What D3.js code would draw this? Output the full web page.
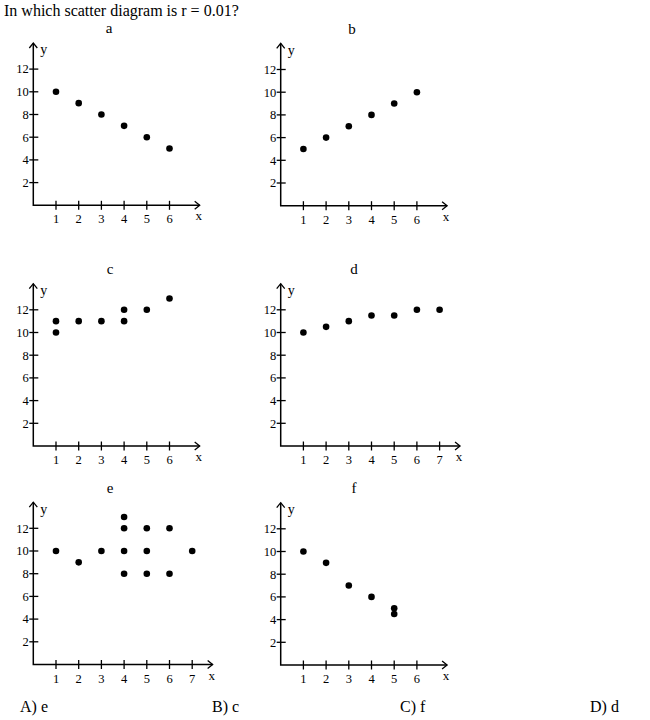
<!DOCTYPE html>
<html>
<head>
<meta charset="utf-8">
<script src="https://cdn.jsdelivr.net/npm/d3@7"></script>
<style>
	body { margin: 0; background: #fff; }
	text { font-family: 'Liberation Serif', 'Times New Roman', serif; fill: #000; }
</style>
</head>
<body>
<div id="chart_container"></div>
<script>
// Question and answer text
const question = 'In which scatter diagram is r = 0.01?'
const answers = ['A) e', 'B) c', 'C) f', 'D) d']

// Scatter data, one pair of arrays per diagram
const aX = [1, 2, 3, 4, 5, 6]
const aY = [10, 9, 8, 7, 6, 5]
const bX = [1, 2, 3, 4, 5, 6]
const bY = [5, 6, 7, 8, 9, 10]
const cX = [1, 1, 2, 3, 4, 4, 5, 6]
const cY = [10, 11, 11, 11, 11, 12, 12, 13]
const dX = [1, 2, 3, 4, 5, 6, 7]
const dY = [10, 10.5, 11, 11.5, 11.5, 12, 12]
const eX = [1, 2, 3, 4, 4, 4, 4, 5, 5, 5, 6, 6, 7]
const eY = [10, 9, 10, 13, 12, 10, 8, 12, 10, 8, 12, 8, 10]
const fX = [1, 2, 3, 4, 5, 5]
const fY = [10, 9, 7, 6, 5, 4.5]

// Tick labels
const yTicks = [2, 4, 6, 8, 10, 12]
const xTicks6 = [1, 2, 3, 4, 5, 6]
const xTicks7 = [1, 2, 3, 4, 5, 6, 7]

// Chart dimensions
const chartWidth = 650
const chartHeight = 720
const unitX = 22.7
const unitY = 11.35

// Panel layout (origin of each diagram on the page)
const panels = [
	{ name: 'a', xs: aX, ys: aY, ticks: xTicks6, left: 33.3, base: 205.3, titleX: 109 },
	{ name: 'b', xs: bX, ys: bY, ticks: xTicks6, left: 280.7, base: 205.7, titleX: 352 },
	{ name: 'c', xs: cX, ys: cY, ticks: xTicks6, left: 33.3, base: 446, titleX: 110 },
	{ name: 'd', xs: dX, ys: dY, ticks: xTicks7, left: 280.7, base: 446, titleX: 354 },
	{ name: 'e', xs: eX, ys: eY, ticks: xTicks7, left: 33.3, base: 664.5, titleX: 110 },
	{ name: 'f', xs: fX, ys: fY, ticks: xTicks6, left: 280.7, base: 665, titleX: 354 }
]

// Create Chart Area
let svg = d3.select('#chart_container')
	.append('svg')
	.attr('width', chartWidth)
	.attr('height', chartHeight)

svg.append('text')
	.attr('x', 4)
	.attr('y', 15.5)
	.style('font-size', '16px')
	.text(question)

panels.forEach((p) => {
	// axis length: a little past the last tick
	let xMax = p.ticks.length == 7 ? 7.9 : 7.33
	let scaleX = d3.scaleLinear()
		.domain([0, xMax])
		.range([p.left, p.left + xMax * unitX])
	let scaleY = d3.scaleLinear()
		.domain([0, 14.3])
		.range([p.base, p.base - 14.3 * unitY])

	let g = svg.append('g')

	// Axes
	let xEnd = scaleX(xMax)
	let yTop = scaleY(14.3)
	g.append('path')
		.attr('d', `M${p.left},${yTop}V${p.base}H${xEnd}`)
		.style('fill', 'none')
		.style('stroke', '#000')
		.style('stroke-width', 1.5)
	// Arrow heads
	g.append('path')
		.attr('d', `M${p.left - 4},${yTop + 5}L${p.left},${yTop}L${p.left + 4},${yTop + 5}`)
		.style('fill', 'none')
		.style('stroke', '#000')
		.style('stroke-width', 1.3)
	g.append('path')
		.attr('d', `M${xEnd - 5},${p.base - 4}L${xEnd},${p.base}L${xEnd - 5},${p.base + 4}`)
		.style('fill', 'none')
		.style('stroke', '#000')
		.style('stroke-width', 1.3)

	// Y ticks
	yTicks.forEach((t) => {
		g.append('line')
			.attr('x1', p.left - 4)
			.attr('x2', p.left + 5)
			.attr('y1', scaleY(t))
			.attr('y2', scaleY(t))
			.style('stroke', '#000')
			.style('stroke-width', 1.3)
		g.append('text')
			.attr('x', p.left - 4.5)
			.attr('y', scaleY(t) + 4.3)
			.attr('text-anchor', 'end')
			.style('font-size', '12.5px')
			.text(t)
	})

	// X ticks
	p.ticks.forEach((t) => {
		g.append('line')
			.attr('x1', scaleX(t))
			.attr('x2', scaleX(t))
			.attr('y1', p.base - 4.5)
			.attr('y2', p.base + 4.5)
			.style('stroke', '#000')
			.style('stroke-width', 1.3)
		g.append('text')
			.attr('x', scaleX(t))
			.attr('y', p.base + 18)
			.attr('text-anchor', 'middle')
			.style('font-size', '12.5px')
			.text(t)
	})

	// Axis names and panel title
	g.append('text')
		.attr('x', xEnd - 1)
		.attr('y', p.base + 15)
		.attr('text-anchor', 'middle')
		.style('font-size', '13px')
		.text('x')
	g.append('text')
		.attr('x', p.left + 7)
		.attr('y', yTop + 11.5)
		.style('font-size', '14px')
		.text('y')
	g.append('text')
		.attr('x', p.titleX)
		.attr('y', p.base - 172)
		.attr('text-anchor', 'middle')
		.style('font-size', '15px')
		.text(p.name)

	// Points
	g.selectAll('circle')
		.data(p.xs)
		.enter()
		.append('circle')
		.attr('cx', (d) => scaleX(d))
		.attr('cy', (d, i) => scaleY(p.ys[i]))
		.attr('r', 3.3)
		.attr('fill', '#000')
})

// Answer choices
const answerX = [20, 212, 400, 590]
svg.selectAll('.answer')
	.data(answers)
	.enter()
	.append('text')
	.attr('class', 'answer')
	.attr('x', (d, i) => answerX[i])
	.attr('y', 712)
	.style('font-size', '16px')
	.text((d) => d)
</script>
</body>
</html>
